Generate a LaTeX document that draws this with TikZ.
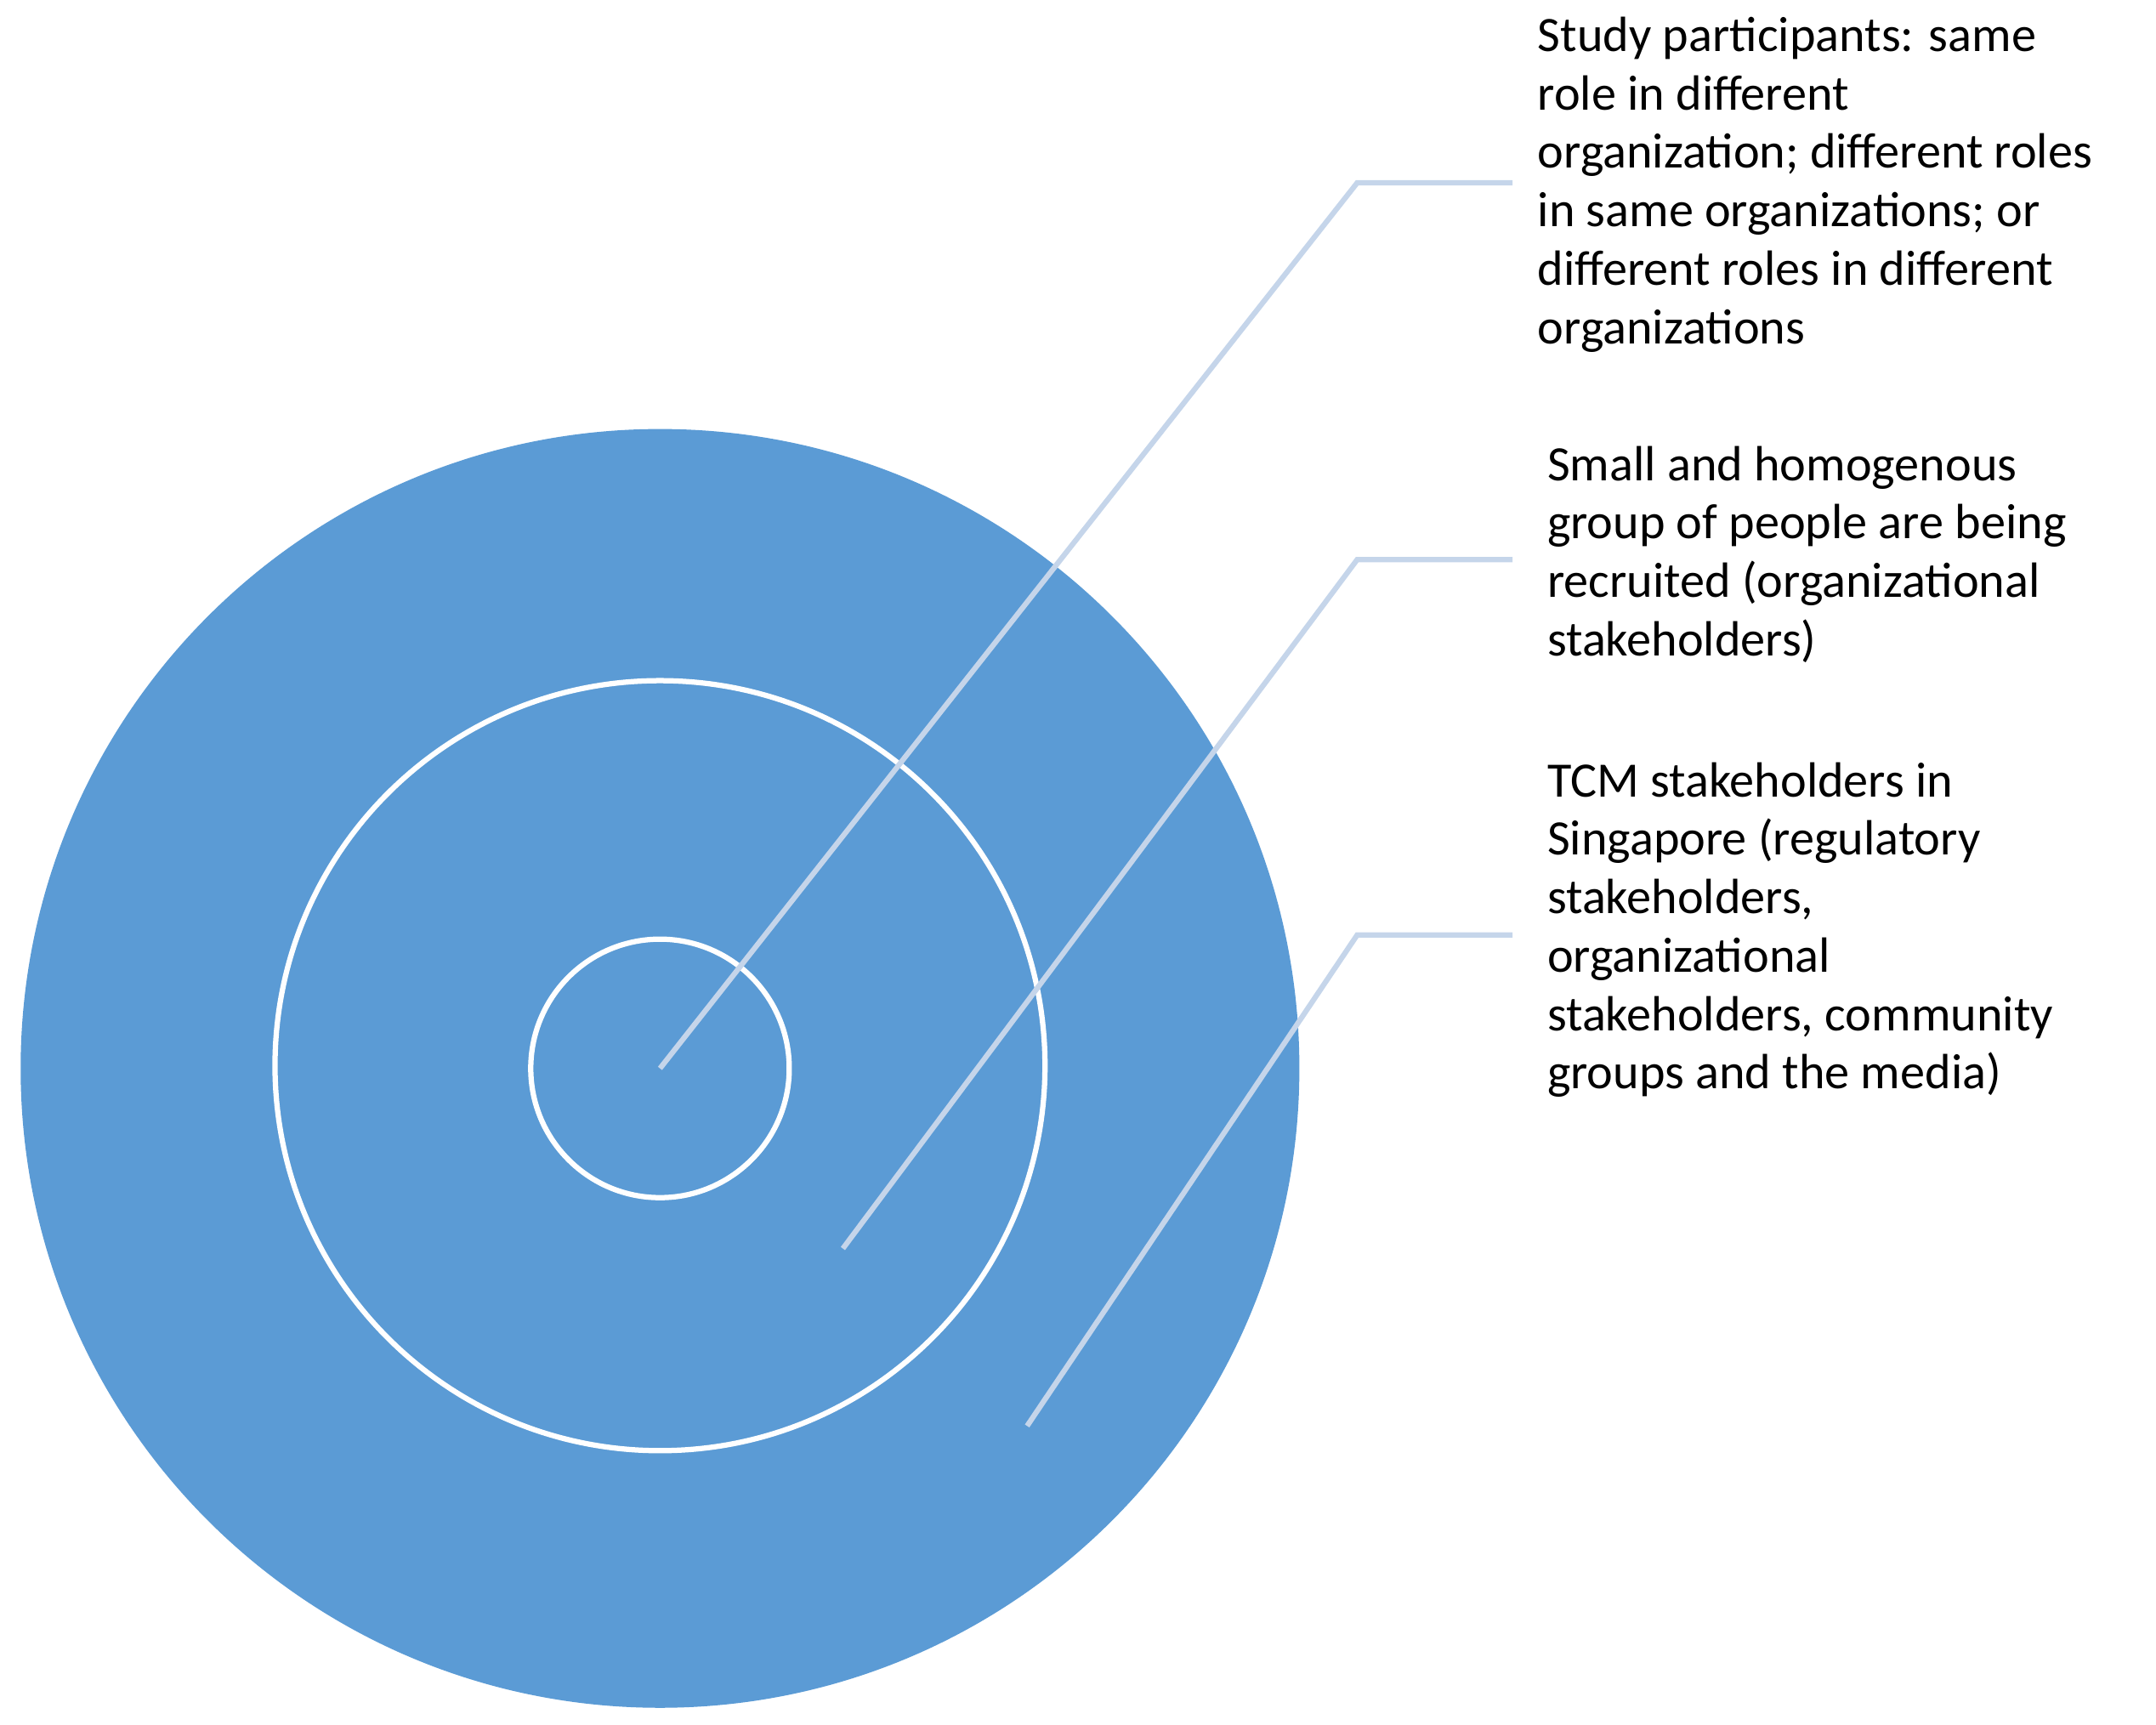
\documentclass[tikz,border=0pt]{standalone}
\usepackage{fontspec}
\setmainfont{Carlito}
\begin{document}
\begin{tikzpicture}[x=0.02cm,y=-0.02cm,
  ring/.style={draw=white,line width=2.2pt},
  leader/.style={draw=lead,line width=2.2pt},
  lbl/.style={anchor=north west,inner sep=0pt,align=left,font=\fontsize{20.5pt}{24.2pt}\selectfont}]
\definecolor{fillb}{HTML}{5B9BD5}
\definecolor{lead}{HTML}{C5D5EA}
\useasboundingbox (0,0) rectangle (1568,1254);
\fill[fillb] (480,777) ellipse [x radius=465, y radius=465];
\draw[ring] (480,775) circle [radius=280];
\draw[ring] (480,777) circle [radius=94];
\coordinate (c1) at (480,777); \coordinate (k1) at (987,133); \coordinate (e1) at (1100,133);
\coordinate (c2) at (613,908); \coordinate (k2) at (987,407); \coordinate (e2) at (1100,407);
\coordinate (c3) at (747,1037); \coordinate (k3) at (987,680); \coordinate (e3) at (1100,680);
\draw[leader] (c1) -- (k1) -- (e1);
\draw[leader] (c2) -- (k2) -- (e2);
\draw[leader] (c3) -- (k3) -- (e3);
\node[lbl] (t1) at (1118,12) {Study participants: same\\role in different\\organization; different roles\\in same organizations; or\\different roles in different\\organizations};
\node[lbl] (t2) at (1125,324) {Small and homogenous\\group of people are being\\recruited (organizational\\stakeholders)};
\node[lbl] (t3) at (1125,554) {TCM stakeholders in\\Singapore (regulatory\\stakeholders,\\organizational\\stakeholders, community\\groups and the media)};
\end{tikzpicture}
\end{document}
